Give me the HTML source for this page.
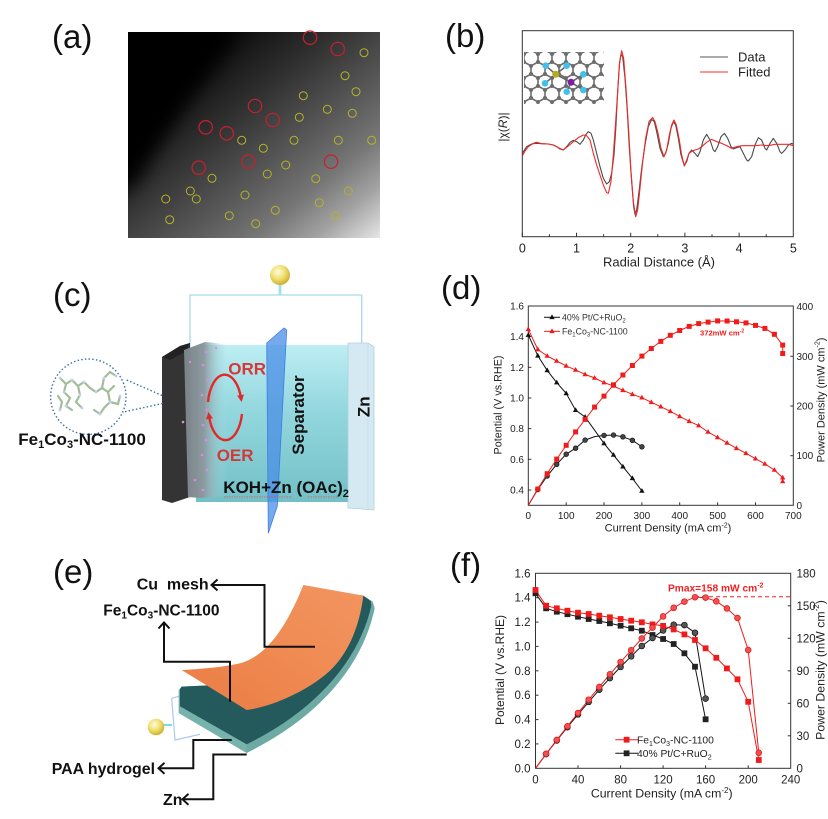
<!DOCTYPE html>
<html><head><meta charset="utf-8"><style>
html,body{margin:0;padding:0;background:#fff;}
svg{display:block;}
</style></head><body>
<svg width="828" height="819" viewBox="0 0 828 819" xmlns="http://www.w3.org/2000/svg" xmlns:xlink="http://www.w3.org/1999/xlink" font-family="'Liberation Sans', Arial, sans-serif">
<defs>
  <linearGradient id="ga" x1="0" y1="0" x2="1" y2="1">
    <stop offset="0" stop-color="#000"/>
    <stop offset="0.25" stop-color="#141414"/>
    <stop offset="0.4" stop-color="#2e2e2e"/>
    <stop offset="0.5" stop-color="#424242"/>
    <stop offset="0.62" stop-color="#5a5a5a"/>
    <stop offset="0.75" stop-color="#767676"/>
    <stop offset="0.87" stop-color="#a2a2a2"/>
    <stop offset="1" stop-color="#e6e6e6"/>
  </linearGradient>
  <clipPath id="clipa"><rect x="128" y="32" width="252" height="206"/></clipPath>
  <filter id="blur8" x="-50%" y="-50%" width="200%" height="200%"><feGaussianBlur stdDeviation="9"/></filter>
  <pattern id="hex" width="14" height="24" patternUnits="userSpaceOnUse" x="524" y="50">
    <path d="M0,4 L7,0 L14,4 L14,12 L7,16 L0,12 Z M7,16 L7,24" fill="none" stroke="#6a6a6a" stroke-width="1.6"/>
    <circle cx="7" cy="0" r="2" fill="#6d6d6d"/><circle cx="14" cy="4" r="2" fill="#6d6d6d"/><circle cx="0" cy="4" r="2" fill="#6d6d6d"/>
    <circle cx="14" cy="12" r="2" fill="#6d6d6d"/><circle cx="0" cy="12" r="2" fill="#6d6d6d"/><circle cx="7" cy="16" r="2" fill="#6d6d6d"/>
    <circle cx="7" cy="24" r="2" fill="#6d6d6d"/>
  </pattern>
  <radialGradient id="bulb" cx="0.4" cy="0.35" r="0.7">
    <stop offset="0" stop-color="#fffbe0"/><stop offset="0.5" stop-color="#f0e070"/><stop offset="1" stop-color="#c9a928"/>
  </radialGradient>
  <linearGradient id="tank" x1="0" y1="0" x2="0" y2="1">
    <stop offset="0" stop-color="#bdeef3"/><stop offset="0.4" stop-color="#95d8df"/><stop offset="1" stop-color="#72c0c6"/>
  </linearGradient>
  <linearGradient id="glay" x1="0" y1="0" x2="1" y2="0">
    <stop offset="0" stop-color="#7a8286"/><stop offset="0.45" stop-color="#8c9aa0"/><stop offset="1" stop-color="#a8e2e8" stop-opacity="0"/>
  </linearGradient>
  <linearGradient id="orng" x1="0" y1="1" x2="1" y2="0">
    <stop offset="0" stop-color="#ea7c44"/><stop offset="0.5" stop-color="#ef8a52"/><stop offset="1" stop-color="#f29560"/>
  </linearGradient>
  <marker id="ah" markerWidth="7" markerHeight="7" refX="3" refY="3.5" orient="auto" markerUnits="userSpaceOnUse">
    <path d="M0,0 L7,3.5 L0,7 Z" fill="#e02a2a"/>
  </marker>
  <path id="tr" d="M0,-2.9 L2.7,1.8 L-2.7,1.8Z"/>
  <rect id="sq" x="-2.5" y="-2.5" width="5" height="5"/>
  <circle id="ci" r="2.4"/>
  <rect id="sq2" x="-2.9" y="-2.9" width="5.8" height="5.8"/>
  <circle id="ci2" r="2.9"/>
</defs>

<!-- ================= Panel (a) ================= -->
<text x="52" y="48" font-size="33" fill="#111">(a)</text>
<g clip-path="url(#clipa)">
  <rect x="128" y="32" width="252" height="206" fill="url(#ga)"/>
  <polygon points="110,20 245,20 225,55 190,100 160,145 135,185 110,200" fill="#000" filter="url(#blur8)"/>
</g>
<g fill="none" stroke="#c8202e" stroke-width="1.2">
  <circle cx="310" cy="37.7" r="6.7"/><circle cx="337.7" cy="49" r="6.7"/><circle cx="255" cy="106" r="6.7"/>
  <circle cx="272.7" cy="120" r="6.7"/><circle cx="205.7" cy="127.3" r="6.7"/><circle cx="226.7" cy="133.3" r="6.7"/>
  <circle cx="248.3" cy="161.7" r="6.7"/><circle cx="198.7" cy="167.7" r="6.7"/><circle cx="331" cy="161.7" r="6.7"/>
</g>
<g fill="none" stroke="#b5b22a" stroke-width="1">
  <circle cx="364" cy="52.7" r="4"/><circle cx="345" cy="75.7" r="4"/><circle cx="356" cy="91.7" r="4"/>
  <circle cx="303.3" cy="95.7" r="4"/><circle cx="327.3" cy="109.3" r="4"/><circle cx="352.3" cy="113.3" r="4"/>
  <circle cx="299.3" cy="117.3" r="4"/><circle cx="241.7" cy="140.3" r="4"/><circle cx="263.3" cy="148.3" r="4"/>
  <circle cx="294" cy="140.3" r="4"/><circle cx="338.3" cy="140.3" r="4"/><circle cx="371.7" cy="140.3" r="4"/>
  <circle cx="285.7" cy="165" r="4"/><circle cx="267.3" cy="174" r="4"/><circle cx="315.7" cy="178.7" r="4"/>
  <circle cx="212" cy="178.3" r="4"/><circle cx="190.3" cy="191" r="4"/><circle cx="196.3" cy="199" r="4"/>
  <circle cx="165.7" cy="199" r="4"/><circle cx="245" cy="195" r="4"/><circle cx="348.3" cy="191" r="4"/>
  <circle cx="319.3" cy="202.7" r="4"/><circle cx="275.3" cy="210.3" r="4"/><circle cx="229.3" cy="215.7" r="4"/>
  <circle cx="335.7" cy="215.7" r="4"/><circle cx="169.7" cy="219.7" r="4"/><circle cx="255.7" cy="223.7" r="4"/>
</g>

<!-- ================= Panel (b) ================= -->
<text x="445" y="47" font-size="33" fill="#111">(b)</text>
<rect x="522.3" y="30.7" width="271" height="206" fill="none" stroke="#333" stroke-width="1"/>
<g stroke="#333" stroke-width="1">
  <line x1="522.3" y1="236.7" x2="522.3" y2="232.7"/><line x1="576.5" y1="236.7" x2="576.5" y2="232.7"/>
  <line x1="630.7" y1="236.7" x2="630.7" y2="232.7"/><line x1="684.9" y1="236.7" x2="684.9" y2="232.7"/>
  <line x1="739.1" y1="236.7" x2="739.1" y2="232.7"/>
  <line x1="549.4" y1="236.7" x2="549.4" y2="234.2"/><line x1="603.6" y1="236.7" x2="603.6" y2="234.2"/>
  <line x1="657.8" y1="236.7" x2="657.8" y2="234.2"/><line x1="712" y1="236.7" x2="712" y2="234.2"/>
  <line x1="766.2" y1="236.7" x2="766.2" y2="234.2"/>
</g>
<g font-size="12.5" fill="#222" text-anchor="middle">
  <text x="522.3" y="252.5">0</text><text x="576.5" y="252.5">1</text><text x="630.7" y="252.5">2</text>
  <text x="684.9" y="252.5">3</text><text x="739.1" y="252.5">4</text><text x="793.3" y="252.5">5</text>
  <text x="659" y="266.5" font-size="13">Radial Distance (Å)</text>
</g>
<text transform="translate(503,127) rotate(-90)" font-size="12" fill="#222" text-anchor="middle" dominant-baseline="central">|χ(<tspan font-style="italic">R</tspan>)|</text>
<!-- inset -->
<rect x="524" y="52" width="80" height="52" fill="url(#hex)"/>
<g stroke="#666" stroke-width="1.6">
  <line x1="555.7" y1="74.3" x2="545.7" y2="65.7"/><line x1="555.7" y1="74.3" x2="566.7" y2="65.7"/>
  <line x1="555.7" y1="74.3" x2="545" y2="83.3"/><line x1="555.7" y1="74.3" x2="571" y2="82.3"/>
  <line x1="571" y1="82.3" x2="583.3" y2="74.3"/><line x1="571" y1="82.3" x2="566.7" y2="91.7"/>
  <line x1="571" y1="82.3" x2="583.3" y2="90"/>
</g>
<g fill="#3fc0ef">
  <circle cx="545.7" cy="65.7" r="3.3"/><circle cx="566.7" cy="65.7" r="3.3"/><circle cx="583.3" cy="74.3" r="3.3"/>
  <circle cx="545" cy="83.3" r="3.3"/><circle cx="566.7" cy="91.7" r="3.3"/><circle cx="583.3" cy="90" r="3.3"/>
</g>
<circle cx="555.7" cy="74.3" r="3.5" fill="#b6ad1e"/>
<circle cx="571" cy="82.3" r="3.5" fill="#7e1ea0"/>
<!-- legend -->
<line x1="700" y1="57" x2="728" y2="57" stroke="#555" stroke-width="1.1"/>
<line x1="700" y1="72" x2="728" y2="72" stroke="#f03030" stroke-width="1.1"/>
<text x="738" y="61.5" font-size="13" fill="#222">Data</text>
<text x="738" y="76.5" font-size="13" fill="#222">Fitted</text>
<!-- curves -->
<g transform="translate(515,25) scale(0.333333)" fill="none" stroke-linejoin="round" stroke-width="3.3">
<polyline stroke="#4a4a4a" points="22,385 35,365 50,357 65,355 80,356 100,357 115,360 125,365 135,372 145,375 155,365 165,352 175,346 185,350 195,358 205,345 213,328 220,320 228,325 235,345 245,385 255,425 265,460 275,477 283,470 290,445 297,390 303,300 308,200 313,120 318,88 323,95 330,160 337,260 343,370 350,470 356,545 360,568 365,555 372,500 380,430 390,360 400,305 410,283 418,290 425,320 435,370 445,395 452,385 460,355 468,310 475,290 482,300 490,340 498,390 508,422 515,410 522,385 530,375 540,385 548,395 555,380 565,345 575,328 585,345 595,375 600,380 608,365 618,335 628,325 638,340 648,365 655,372 665,368 675,365 685,385 695,405 700,408 710,395 720,360 730,338 740,345 750,370 755,375 765,355 775,340 785,355 795,380 800,385 810,375 820,360 830,355 835,358"/>
<polyline stroke="#f02828" points="22,393 30,378 40,365 55,355 65,352 80,356 100,357 115,360 130,368 145,375 160,363 175,350 190,338 205,330 215,332 225,345 235,385 245,420 255,450 265,480 275,503 280,505 288,470 295,390 302,290 308,200 314,110 320,77 326,100 333,190 340,300 348,440 355,530 362,575 368,555 375,490 383,410 392,340 402,290 413,277 420,290 428,320 438,370 447,395 455,375 463,330 470,300 477,285 484,300 492,340 500,390 508,423 515,405 522,385 532,378 540,375 550,372 560,365 575,352 590,343 605,350 620,355 635,362 650,370 665,365 680,362 700,362 720,362 740,360 760,362 780,358 800,358 820,358 835,362"/>
</g>

<!-- ================= Panel (c) ================= -->
<text x="53" y="306" font-size="33" fill="#111">(c)</text>
<path d="M190,347 V295 H361.7 V344" stroke="#a9d9ec" stroke-width="1.3" fill="none"/>
<rect x="278.6" y="283" width="2.8" height="12" fill="#9ee0ef"/>
<circle cx="280" cy="275" r="10" fill="url(#bulb)"/>
<rect x="196" y="345" width="153" height="157" fill="url(#tank)"/>
<polygon points="348,343 368,343 374,347 374,510 348,508" fill="#d5e9f2" stroke="#b5d0e0" stroke-width="0.8"/>
<line x1="368" y1="344" x2="368" y2="509" stroke="#c4dce8" stroke-width="0.8"/>
<polygon points="266.7,343 284,328 286.7,330 277.3,506 268.3,533.3" fill="#4a8ee6" fill-opacity="0.75" stroke="#3c7fe0" stroke-width="0.8"/>
<!-- cathode -->
<polygon points="162,357 180,346 190,343 190,497 172,503 162,500" fill="#343434"/>
<polygon points="162,357 180,346 190,343 185,352 170,360" fill="#222"/>
<polygon points="184,350 205,342 224,344 228,350 228,496 200,498 188,497" fill="url(#glay)"/>
<g fill="#e486e6">
  <circle cx="206" cy="352" r="1.3"/><circle cx="203" cy="365" r="1.3"/><circle cx="208" cy="380" r="1.3"/>
  <circle cx="202" cy="395" r="1.3"/><circle cx="207" cy="410" r="1.3"/><circle cx="203" cy="425" r="1.3"/>
  <circle cx="183" cy="422" r="1.3"/><circle cx="206" cy="440" r="1.3"/><circle cx="202" cy="455" r="1.3"/>
  <circle cx="207" cy="470" r="1.3"/><circle cx="195" cy="480" r="1.3"/><circle cx="203" cy="490" r="1.3"/>
  <circle cx="216" cy="348" r="1.2"/><circle cx="190" cy="362" r="1.2"/>
</g>
<!-- ORR/OER -->
<text x="228.3" y="374.5" font-size="17" font-weight="bold" fill="#d23a3a">ORR</text>
<text x="216.7" y="461" font-size="17" font-weight="bold" fill="#d23a3a">OER</text>
<path d="M208,402 A17,33 0 0 1 241,398" fill="none" stroke="#e02a2a" stroke-width="2.4" marker-end="url(#ah)"/>
<path d="M242,414 A17,33 0 0 1 209,416" fill="none" stroke="#e02a2a" stroke-width="2.4" marker-end="url(#ah)"/>
<text transform="translate(298.3,415) rotate(-90)" font-size="17" font-weight="bold" fill="#111" text-anchor="middle" dominant-baseline="central">Separator</text>
<text transform="translate(364,406.7) rotate(-90)" font-size="17" font-weight="bold" fill="#111" text-anchor="middle" dominant-baseline="central">Zn</text>
<text x="223.3" y="493" font-size="17" font-weight="bold" fill="#111">KOH+Zn (OAc)<tspan font-size="11" dy="4">2</tspan></text>
<line x1="224" y1="497" x2="292" y2="497" stroke="#e05050" stroke-width="0.8" stroke-dasharray="1.5,1"/>
<line x1="308" y1="497" x2="338" y2="497" stroke="#e05050" stroke-width="0.8" stroke-dasharray="1.5,1"/>
<!-- magnifier -->
<circle cx="88.3" cy="396.7" r="37.7" fill="#fff" stroke="#3d72a8" stroke-width="1.4" stroke-dasharray="1.5,2.2"/>
<path d="M126.7,380 L163.3,396 M125,411.7 L163.3,403.3" stroke="#3d72a8" stroke-width="1.4" stroke-dasharray="1.5,2.2" fill="none"/>
<g stroke="#a3bd9c" stroke-width="2.2" fill="none" stroke-linecap="round">
  <polyline points="60,378 66,384 72,380 78,386 84,382 90,388"/>
  <polyline points="66,384 64,392 70,398 66,406 72,410"/>
  <polyline points="78,386 80,395 76,402 82,408"/>
  <polyline points="90,388 96,392 102,388 108,392 114,386"/>
  <polyline points="102,388 104,378 110,372 116,376"/>
  <polyline points="108,392 110,402 104,408 100,414 94,410"/>
  <polyline points="110,402 118,404 120,396"/>
  <polyline points="58,396 62,402 60,410"/>
</g>
<g fill="#c2d2ea">
  <circle cx="60" cy="378" r="1.4"/><circle cx="72" cy="380" r="1.4"/><circle cx="84" cy="382" r="1.4"/>
  <circle cx="64" cy="392" r="1.4"/><circle cx="66" cy="406" r="1.4"/><circle cx="80" cy="395" r="1.4"/>
  <circle cx="96" cy="392" r="1.4"/><circle cx="104" cy="378" r="1.4"/><circle cx="116" cy="376" r="1.4"/>
  <circle cx="110" cy="402" r="1.4"/><circle cx="100" cy="414" r="1.4"/><circle cx="120" cy="396" r="1.4"/>
  <circle cx="82" cy="408" r="1.4"/><circle cx="60" cy="410" r="1.4"/>
</g>
<text x="18.3" y="445" font-size="17" font-weight="bold" fill="#111">Fe<tspan font-size="11" dy="3">1</tspan><tspan dy="-3">Co</tspan><tspan font-size="11" dy="3">3</tspan><tspan dy="-3">-NC-1100</tspan></text>

<!-- ================= Panel (d) ================= -->
<text x="441" y="299" font-size="33" fill="#111">(d)</text>
<rect x="528.3" y="306" width="265" height="199.3" fill="none" stroke="#333" stroke-width="1"/>
<g stroke="#333" stroke-width="1">
  <line x1="528.3" y1="490" x2="531.3" y2="490"/><line x1="528.3" y1="459.3" x2="531.3" y2="459.3"/>
  <line x1="528.3" y1="428.6" x2="531.3" y2="428.6"/><line x1="528.3" y1="398" x2="531.3" y2="398"/>
  <line x1="528.3" y1="367.3" x2="531.3" y2="367.3"/><line x1="528.3" y1="336.6" x2="531.3" y2="336.6"/>
  <line x1="793.3" y1="455.7" x2="790.3" y2="455.7"/><line x1="793.3" y1="406" x2="790.3" y2="406"/>
  <line x1="793.3" y1="356.3" x2="790.3" y2="356.3"/>
  <line x1="566.2" y1="505.3" x2="566.2" y2="502.3"/><line x1="604" y1="505.3" x2="604" y2="502.3"/>
  <line x1="641.9" y1="505.3" x2="641.9" y2="502.3"/><line x1="679.7" y1="505.3" x2="679.7" y2="502.3"/>
  <line x1="717.6" y1="505.3" x2="717.6" y2="502.3"/><line x1="755.5" y1="505.3" x2="755.5" y2="502.3"/>
</g>
<g font-size="10" fill="#222" text-anchor="end">
  <text x="524" y="309.5">1.6</text><text x="524" y="340.1">1.4</text><text x="524" y="370.8">1.2</text>
  <text x="524" y="401.5">1.0</text><text x="524" y="432.1">0.8</text><text x="524" y="462.8">0.6</text>
  <text x="524" y="493.5">0.4</text>
</g>
<g font-size="10" fill="#222">
  <text x="796.5" y="310.2">400</text><text x="796.5" y="359.8">300</text><text x="796.5" y="409.5">200</text>
  <text x="796.5" y="459.2">100</text><text x="796.5" y="508.8">0</text>
</g>
<g font-size="10" fill="#222" text-anchor="middle">
  <text x="528.3" y="519">0</text><text x="566.2" y="519">100</text><text x="604" y="519">200</text>
  <text x="641.9" y="519">300</text><text x="679.7" y="519">400</text><text x="717.6" y="519">500</text>
  <text x="755.5" y="519">600</text><text x="793.3" y="519">700</text>
</g>
<text x="668" y="531.5" font-size="11" fill="#222" text-anchor="middle">Current Density (mA cm<tspan font-size="7" dy="-4">-2</tspan><tspan dy="4">)</tspan></text>
<text transform="translate(498.3,405) rotate(-90)" font-size="10.8" fill="#222" text-anchor="middle" dominant-baseline="central">Potential (V vs.RHE)</text>
<text transform="translate(821.5,400) rotate(-90)" font-size="11" fill="#222" text-anchor="middle" dominant-baseline="central">Power Density (mW cm<tspan font-size="7" dy="-4">-2</tspan><tspan dy="4">)</tspan></text>
<!-- black series -->
<g fill="none" stroke="#111" stroke-width="1">
  <polyline points="528.3,335.1 537.8,355.8 547.2,370.4 556.7,382.6 566.2,393.4 575.6,410.2 585.1,417 594.6,430.2 604,443.4 613.5,455 622.9,466.7 632.4,478.3 641.9,491"/>
  <polyline points="528.3,505.3 537.8,489.5 547.2,476 556.7,464.3 566.2,454.2 575.6,448.2 585.1,440.1 594.6,436.6 604,435.4 613.5,435.1 622.9,436.8 632.4,440.3 641.9,446.8"/>
</g>
<g fill="#111">
  <use xlink:href="#tr" x="528.3" y="335.1"/><use xlink:href="#tr" x="537.8" y="355.8"/><use xlink:href="#tr" x="547.2" y="370.4"/>
  <use xlink:href="#tr" x="556.7" y="382.6"/><use xlink:href="#tr" x="566.2" y="393.4"/><use xlink:href="#tr" x="575.6" y="410.2"/>
  <use xlink:href="#tr" x="585.1" y="417"/><use xlink:href="#tr" x="604" y="443.4"/>
  <use xlink:href="#tr" x="613.5" y="455"/><use xlink:href="#tr" x="622.9" y="466.7"/><use xlink:href="#tr" x="632.4" y="478.3"/>
  <use xlink:href="#tr" x="641.9" y="491"/>
</g>
<g fill="#444" stroke="#111" stroke-width="0.6">
  <use xlink:href="#ci" x="537.8" y="489.5"/><use xlink:href="#ci" x="547.2" y="476"/><use xlink:href="#ci" x="556.7" y="464.3"/>
  <use xlink:href="#ci" x="566.2" y="454.2"/><use xlink:href="#ci" x="575.6" y="448.2"/><use xlink:href="#ci" x="585.1" y="440.1"/>
  <use xlink:href="#ci" x="604" y="435.4"/><use xlink:href="#ci" x="613.5" y="435.1"/>
  <use xlink:href="#ci" x="622.9" y="436.8"/><use xlink:href="#ci" x="632.4" y="440.3"/><use xlink:href="#ci" x="641.9" y="446.8"/>
</g>
<!-- red series -->
<g fill="none" stroke="#f01c1c" stroke-width="1">
  <polyline points="528.3,329.3 537.8,349.4 547.2,356 556.7,361 566.2,365.9 575.6,369.9 585.1,374.4 594.6,378 604,382.6 613.5,386 622.9,390.3 632.4,394.3 641.9,397.7 651.3,402.3 660.8,406.7 670.3,411.3 679.7,416.4 689.2,421.3 698.7,425.6 708.1,432 717.6,437.4 727.1,442.9 736.5,448.3 746,453.3 755.5,458.7 764.9,463.9 774.4,470 782.7,477.7 782.7,481.5"/>
  <polyline points="528.3,505.3 537.8,489 547.2,473.7 556.7,459.1 566.2,445.3 575.6,431.9 585.1,419.4 594.6,407.1 604,396.1 613.5,384.8 622.9,375 632.4,365.5 641.9,356.1 651.3,348.5 660.8,341.4 670.3,335.3 679.7,330.5 689.2,326.4 698.7,323.6 708.1,322.1 717.6,320.9 727.1,321 736.5,321.8 746,322.9 755.5,325.4 764.9,328.4 774.4,334.3 782.7,345.1 782.7,353.5"/>
</g>
<g fill="#f01c1c">
  <use xlink:href="#tr" x="528.3" y="329.3"/><use xlink:href="#tr" x="537.8" y="349.4"/><use xlink:href="#tr" x="547.2" y="356"/>
  <use xlink:href="#tr" x="556.7" y="361"/><use xlink:href="#tr" x="566.2" y="365.9"/><use xlink:href="#tr" x="575.6" y="369.9"/>
  <use xlink:href="#tr" x="585.1" y="374.4"/><use xlink:href="#tr" x="594.6" y="378"/><use xlink:href="#tr" x="604" y="382.6"/>
  <use xlink:href="#tr" x="613.5" y="386"/><use xlink:href="#tr" x="622.9" y="390.3"/><use xlink:href="#tr" x="632.4" y="394.3"/>
  <use xlink:href="#tr" x="641.9" y="397.7"/><use xlink:href="#tr" x="651.3" y="402.3"/><use xlink:href="#tr" x="660.8" y="406.7"/>
  <use xlink:href="#tr" x="670.3" y="411.3"/><use xlink:href="#tr" x="679.7" y="416.4"/><use xlink:href="#tr" x="689.2" y="421.3"/>
  <use xlink:href="#tr" x="698.7" y="425.6"/><use xlink:href="#tr" x="708.1" y="432"/><use xlink:href="#tr" x="717.6" y="437.4"/>
  <use xlink:href="#tr" x="727.1" y="442.9"/><use xlink:href="#tr" x="736.5" y="448.3"/><use xlink:href="#tr" x="746" y="453.3"/>
  <use xlink:href="#tr" x="755.5" y="458.7"/><use xlink:href="#tr" x="764.9" y="463.9"/><use xlink:href="#tr" x="774.4" y="470"/>
  <use xlink:href="#tr" x="782.7" y="477.7"/><use xlink:href="#tr" x="782.7" y="481.5"/>
  <use xlink:href="#sq" x="537.8" y="489"/><use xlink:href="#sq" x="547.2" y="473.7"/>
  <use xlink:href="#sq" x="556.7" y="459.1"/><use xlink:href="#sq" x="566.2" y="445.3"/><use xlink:href="#sq" x="575.6" y="431.9"/>
  <use xlink:href="#sq" x="585.1" y="419.4"/><use xlink:href="#sq" x="594.6" y="407.1"/><use xlink:href="#sq" x="604" y="396.1"/>
  <use xlink:href="#sq" x="613.5" y="384.8"/><use xlink:href="#sq" x="622.9" y="375"/><use xlink:href="#sq" x="632.4" y="365.5"/>
  <use xlink:href="#sq" x="641.9" y="356.1"/><use xlink:href="#sq" x="651.3" y="348.5"/><use xlink:href="#sq" x="660.8" y="341.4"/>
  <use xlink:href="#sq" x="670.3" y="335.3"/><use xlink:href="#sq" x="679.7" y="330.5"/><use xlink:href="#sq" x="689.2" y="326.4"/>
  <use xlink:href="#sq" x="698.7" y="323.6"/><use xlink:href="#sq" x="708.1" y="322.1"/><use xlink:href="#sq" x="717.6" y="320.9"/>
  <use xlink:href="#sq" x="727.1" y="321"/><use xlink:href="#sq" x="736.5" y="321.8"/><use xlink:href="#sq" x="746" y="322.9"/>
  <use xlink:href="#sq" x="755.5" y="325.4"/><use xlink:href="#sq" x="764.9" y="328.4"/><use xlink:href="#sq" x="774.4" y="334.3"/>
  <use xlink:href="#sq" x="782.7" y="345.1"/><use xlink:href="#sq" x="782.7" y="353.5"/>
</g>
<!-- legend d -->
<line x1="544" y1="317.3" x2="560" y2="317.3" stroke="#111" stroke-width="1"/>
<use xlink:href="#tr" x="552" y="317.3" fill="#111"/>
<line x1="544" y1="331.3" x2="560" y2="331.3" stroke="#f01c1c" stroke-width="1"/>
<use xlink:href="#tr" x="552" y="331.3" fill="#f01c1c"/>
<text x="562" y="320.5" font-size="8.8" fill="#333">40% Pt/C+RuO<tspan font-size="6" dy="2">2</tspan></text>
<text x="562" y="334.5" font-size="8.8" fill="#333">Fe<tspan font-size="6" dy="2">1</tspan><tspan dy="-2">Co</tspan><tspan font-size="6" dy="2">3</tspan><tspan dy="-2">-NC-1100</tspan></text>
<text x="700" y="335.5" font-size="7.6" font-weight="bold" fill="#f01c1c">372mW cm<tspan font-size="5" dy="-3">-2</tspan></text>

<!-- ================= Panel (e) ================= -->
<text x="53" y="583" font-size="33" fill="#111">(e)</text>
<g transform="translate(150,575) scale(0.333333)">
  <path d="M65,370 L175,340 M65,370 L75,495 L150,478" fill="none" stroke="#a8c8f0" stroke-width="3.5"/>
  <line x1="40" y1="450" x2="66" y2="450" stroke="#7fd8e8" stroke-width="6"/>
  <path d="M95,335 L200,330 C300,320 400,200 460,40 L640,62 L668,80 L674,100 C640,262 520,420 290,534 L86,414 L86,345 Z" fill="#6eaaa4"/>
  <path d="M95,335 L200,330 C300,320 400,200 460,40 L640,62 L662,78 L664,92 C630,245 510,400 290,508 L90,394 L90,342 Z" fill="#245a5c"/>
  <path d="M90,394 L290,508 L290,534 L86,414 Z" fill="#77b3ad"/>
  <path d="M95,285 C150,282 230,276 280,262 C340,240 400,180 460,30 L640,62 C628,160 590,248 525,300 C455,356 362,395 290,405 Z" fill="url(#orng)"/>
</g>
<circle cx="156" cy="727" r="8.3" fill="url(#bulb)"/>
<g fill="none" stroke="#111" stroke-width="2">
  <polyline points="315,646.7 264.5,646.7 264.5,585 212,585"/>
  <polyline points="217.5,579.5 211.5,585 217.5,590.5"/>
  <polyline points="230,701.7 230,661.7 164,661.7 164,623"/>
  <polyline points="158.5,628.5 164,622.5 169.5,628.5"/>
  <polyline points="231.7,740 193.3,740 193.3,768.3 159,768.3"/>
  <polyline points="164.5,762.8 158.5,768.3 164.5,773.8"/>
  <polyline points="246.7,754.5 213.3,754.5 213.3,799.3 183,799.3"/>
  <polyline points="188.5,793.8 182.5,799.3 188.5,804.8"/>
</g>
<text x="136.7" y="589.5" font-size="16" font-weight="bold" fill="#111" xml:space="preserve">Cu  mesh</text>
<text x="103.3" y="615.5" font-size="15.5" font-weight="bold" fill="#111">Fe<tspan font-size="10" dy="3">1</tspan><tspan dy="-3">Co</tspan><tspan font-size="10" dy="3">3</tspan><tspan dy="-3">-NC-1100</tspan></text>
<text x="51.7" y="774" font-size="15.9" font-weight="bold" fill="#111">PAA hydrogel</text>
<text x="163" y="805" font-size="15.9" font-weight="bold" fill="#111">Zn</text>

<!-- ================= Panel (f) ================= -->
<text x="450" y="576" font-size="33" fill="#111">(f)</text>
<rect x="535.5" y="573.3" width="255.2" height="195" fill="none" stroke="#333" stroke-width="1"/>
<g stroke="#333" stroke-width="1">
  <line x1="535.5" y1="743.9" x2="538.5" y2="743.9"/><line x1="535.5" y1="719.6" x2="538.5" y2="719.6"/>
  <line x1="535.5" y1="695.2" x2="538.5" y2="695.2"/><line x1="535.5" y1="670.8" x2="538.5" y2="670.8"/>
  <line x1="535.5" y1="646.4" x2="538.5" y2="646.4"/><line x1="535.5" y1="622.1" x2="538.5" y2="622.1"/>
  <line x1="535.5" y1="597.7" x2="538.5" y2="597.7"/>
  <line x1="790.7" y1="735.8" x2="787.7" y2="735.8"/><line x1="790.7" y1="703.3" x2="787.7" y2="703.3"/>
  <line x1="790.7" y1="670.8" x2="787.7" y2="670.8"/><line x1="790.7" y1="638.3" x2="787.7" y2="638.3"/>
  <line x1="790.7" y1="605.8" x2="787.7" y2="605.8"/>
  <line x1="578" y1="768.3" x2="578" y2="765.3"/><line x1="620.6" y1="768.3" x2="620.6" y2="765.3"/>
  <line x1="663.1" y1="768.3" x2="663.1" y2="765.3"/><line x1="705.6" y1="768.3" x2="705.6" y2="765.3"/>
  <line x1="748.2" y1="768.3" x2="748.2" y2="765.3"/>
</g>
<g font-size="11.5" fill="#222" text-anchor="end">
  <text x="530.5" y="772.3">0.0</text><text x="530.5" y="747.9">0.2</text><text x="530.5" y="723.6">0.4</text>
  <text x="530.5" y="699.2">0.6</text><text x="530.5" y="674.8">0.8</text><text x="530.5" y="650.4">1.0</text>
  <text x="530.5" y="626.1">1.2</text><text x="530.5" y="601.7">1.4</text><text x="530.5" y="577.3">1.6</text>
</g>
<g font-size="11.5" fill="#222">
  <text x="796.5" y="772.3">0</text><text x="796.5" y="739.8">30</text><text x="796.5" y="707.3">60</text>
  <text x="796.5" y="674.8">90</text><text x="796.5" y="642.3">120</text><text x="796.5" y="609.8">150</text>
  <text x="796.5" y="577.3">180</text>
</g>
<g font-size="11.5" fill="#222" text-anchor="middle">
  <text x="535.5" y="783.5">0</text><text x="578" y="783.5">40</text><text x="620.6" y="783.5">80</text>
  <text x="663.1" y="783.5">120</text><text x="705.6" y="783.5">160</text><text x="748.2" y="783.5">200</text>
  <text x="790.7" y="783.5">240</text>
</g>
<text x="661.7" y="797.5" font-size="12.3" fill="#222" text-anchor="middle">Current Density (mA cm<tspan font-size="8" dy="-4.5">-2</tspan><tspan dy="4.5">)</tspan></text>
<text transform="translate(500,670) rotate(-90)" font-size="12" fill="#222" text-anchor="middle" dominant-baseline="central">Potential (V vs.RHE)</text>
<text transform="translate(820.5,670) rotate(-90)" font-size="12.3" fill="#222" text-anchor="middle" dominant-baseline="central">Power Density (mW cm<tspan font-size="8" dy="-4.5">-2</tspan><tspan dy="4.5">)</tspan></text>
<line x1="695" y1="596.7" x2="790.7" y2="596.7" stroke="#f02020" stroke-width="1" stroke-dasharray="4,3"/>
<text x="668" y="591.5" font-size="10.2" font-weight="bold" fill="#f02020">Pmax=158 mW cm<tspan font-size="7" dy="-4">-2</tspan></text>
<!-- black (f) -->
<g fill="none" stroke="#111" stroke-width="1">
  <polyline points="535.5,593.3 546.1,608.3 556.8,611.7 567.4,614.2 578,616.7 588.7,619 599.3,621 609.9,623.3 620.6,625.7 631.2,628.3 641.8,630.7 652.5,635 663.1,639 673.7,644 684.4,653.3 695,666.7 705.6,719.3"/>
  <polyline points="535.5,768.3 546.1,754.1 556.8,740.5 567.4,727.2 578,714.4 588.7,701.9 599.3,689.7 609.9,678.1 620.6,666.9 631.2,656.3 641.8,646 652.5,638 663.1,630.4 673.7,624.7 684.4,625.1 695,632.8 705.6,698.6"/>
</g>
<!-- red (f) -->
<g fill="none" stroke="#f01c1c" stroke-width="1">
  <polyline points="535.5,590 546.1,605.7 556.8,608.3 567.4,610.7 578,612.7 588.7,614 599.3,615.7 609.9,617.3 620.6,619 631.2,620.7 641.8,622.3 652.5,624.4 663.1,625.9 673.7,629.4 684.4,634.4 695,640 705.6,648.3 716.3,657.8 726.9,668.4 737.5,679.3 748.2,701.8 758.8,760"/>
  <polyline points="535.5,768.3 546.1,753.8 556.8,739.9 567.4,726.3 578,713 588.7,699.7 599.3,686.9 609.9,674.3 620.6,662.1 631.2,650.2 641.8,638.5 652.5,627.6 663.1,616.4 673.7,607.8 684.4,601.6 695,597.2 705.6,597.6 716.3,601.3 726.9,608.4 737.5,618 748.2,650 758.8,752.8"/>
</g>
<g fill="#222">
  <use xlink:href="#sq2" x="535.5" y="593.3"/><use xlink:href="#sq2" x="546.1" y="608.3"/><use xlink:href="#sq2" x="556.8" y="611.7"/>
  <use xlink:href="#sq2" x="567.4" y="614.2"/><use xlink:href="#sq2" x="578" y="616.7"/><use xlink:href="#sq2" x="588.7" y="619"/>
  <use xlink:href="#sq2" x="599.3" y="621"/><use xlink:href="#sq2" x="609.9" y="623.3"/><use xlink:href="#sq2" x="620.6" y="625.7"/>
  <use xlink:href="#sq2" x="631.2" y="628.3"/><use xlink:href="#sq2" x="641.8" y="630.7"/><use xlink:href="#sq2" x="652.5" y="635"/>
  <use xlink:href="#sq2" x="663.1" y="639"/><use xlink:href="#sq2" x="673.7" y="644"/><use xlink:href="#sq2" x="684.4" y="653.3"/>
  <use xlink:href="#sq2" x="695" y="666.7"/><use xlink:href="#sq2" x="705.6" y="719.3"/>
</g>
<g fill="#555" stroke="#111" stroke-width="0.7">
  <use xlink:href="#ci2" x="546.1" y="754.1"/><use xlink:href="#ci2" x="556.8" y="740.5"/>
  <use xlink:href="#ci2" x="567.4" y="727.2"/><use xlink:href="#ci2" x="578" y="714.4"/><use xlink:href="#ci2" x="588.7" y="701.9"/>
  <use xlink:href="#ci2" x="599.3" y="689.7"/><use xlink:href="#ci2" x="609.9" y="678.1"/><use xlink:href="#ci2" x="620.6" y="666.9"/>
  <use xlink:href="#ci2" x="631.2" y="656.3"/><use xlink:href="#ci2" x="641.8" y="646"/><use xlink:href="#ci2" x="652.5" y="638"/>
  <use xlink:href="#ci2" x="663.1" y="630.4"/><use xlink:href="#ci2" x="673.7" y="624.7"/><use xlink:href="#ci2" x="684.4" y="625.1"/>
  <use xlink:href="#ci2" x="695" y="632.8"/><use xlink:href="#ci2" x="705.6" y="698.6"/>
</g>
<g fill="#f01c1c">
  <use xlink:href="#sq2" x="535.5" y="590"/><use xlink:href="#sq2" x="546.1" y="605.7"/><use xlink:href="#sq2" x="556.8" y="608.3"/>
  <use xlink:href="#sq2" x="567.4" y="610.7"/><use xlink:href="#sq2" x="578" y="612.7"/><use xlink:href="#sq2" x="588.7" y="614"/>
  <use xlink:href="#sq2" x="599.3" y="615.7"/><use xlink:href="#sq2" x="609.9" y="617.3"/><use xlink:href="#sq2" x="620.6" y="619"/>
  <use xlink:href="#sq2" x="631.2" y="620.7"/><use xlink:href="#sq2" x="641.8" y="622.3"/><use xlink:href="#sq2" x="652.5" y="624.4"/>
  <use xlink:href="#sq2" x="663.1" y="625.9"/><use xlink:href="#sq2" x="673.7" y="629.4"/><use xlink:href="#sq2" x="684.4" y="634.4"/>
  <use xlink:href="#sq2" x="695" y="640"/><use xlink:href="#sq2" x="705.6" y="648.3"/><use xlink:href="#sq2" x="716.3" y="657.8"/>
  <use xlink:href="#sq2" x="726.9" y="668.4"/><use xlink:href="#sq2" x="737.5" y="679.3"/><use xlink:href="#sq2" x="748.2" y="701.8"/>
  <use xlink:href="#sq2" x="758.8" y="760"/>
</g>
<g fill="#f05050" stroke="#e01010" stroke-width="0.7">
  <use xlink:href="#ci2" x="546.1" y="753.8"/><use xlink:href="#ci2" x="556.8" y="739.9"/>
  <use xlink:href="#ci2" x="567.4" y="726.3"/><use xlink:href="#ci2" x="578" y="713"/><use xlink:href="#ci2" x="588.7" y="699.7"/>
  <use xlink:href="#ci2" x="599.3" y="686.9"/><use xlink:href="#ci2" x="609.9" y="674.3"/><use xlink:href="#ci2" x="620.6" y="662.1"/>
  <use xlink:href="#ci2" x="631.2" y="650.2"/><use xlink:href="#ci2" x="641.8" y="638.5"/><use xlink:href="#ci2" x="652.5" y="627.6"/>
  <use xlink:href="#ci2" x="663.1" y="616.4"/><use xlink:href="#ci2" x="673.7" y="607.8"/><use xlink:href="#ci2" x="684.4" y="601.6"/>
  <use xlink:href="#ci2" x="695" y="597.2"/><use xlink:href="#ci2" x="705.6" y="597.6"/><use xlink:href="#ci2" x="716.3" y="601.3"/>
  <use xlink:href="#ci2" x="726.9" y="608.4"/><use xlink:href="#ci2" x="737.5" y="618"/><use xlink:href="#ci2" x="748.2" y="650"/>
  <use xlink:href="#ci2" x="758.8" y="752.8"/>
</g>
<!-- legend f -->
<line x1="615.3" y1="739.7" x2="638" y2="739.7" stroke="#f01c1c" stroke-width="1"/>
<use xlink:href="#sq2" x="626.6" y="739.7" fill="#f01c1c"/>
<line x1="615.3" y1="753.3" x2="638" y2="753.3" stroke="#111" stroke-width="1"/>
<use xlink:href="#sq2" x="626.6" y="753.3" fill="#222"/>
<text x="637" y="743.5" font-size="10.3" fill="#222">Fe<tspan font-size="7" dy="2.5">1</tspan><tspan dy="-2.5">Co</tspan><tspan font-size="7" dy="2.5">3</tspan><tspan dy="-2.5">-NC-1100</tspan></text>
<text x="637" y="757" font-size="10.3" fill="#222">40% Pt/C+RuO<tspan font-size="7" dy="2.5">2</tspan></text>
</svg>
</body></html>
